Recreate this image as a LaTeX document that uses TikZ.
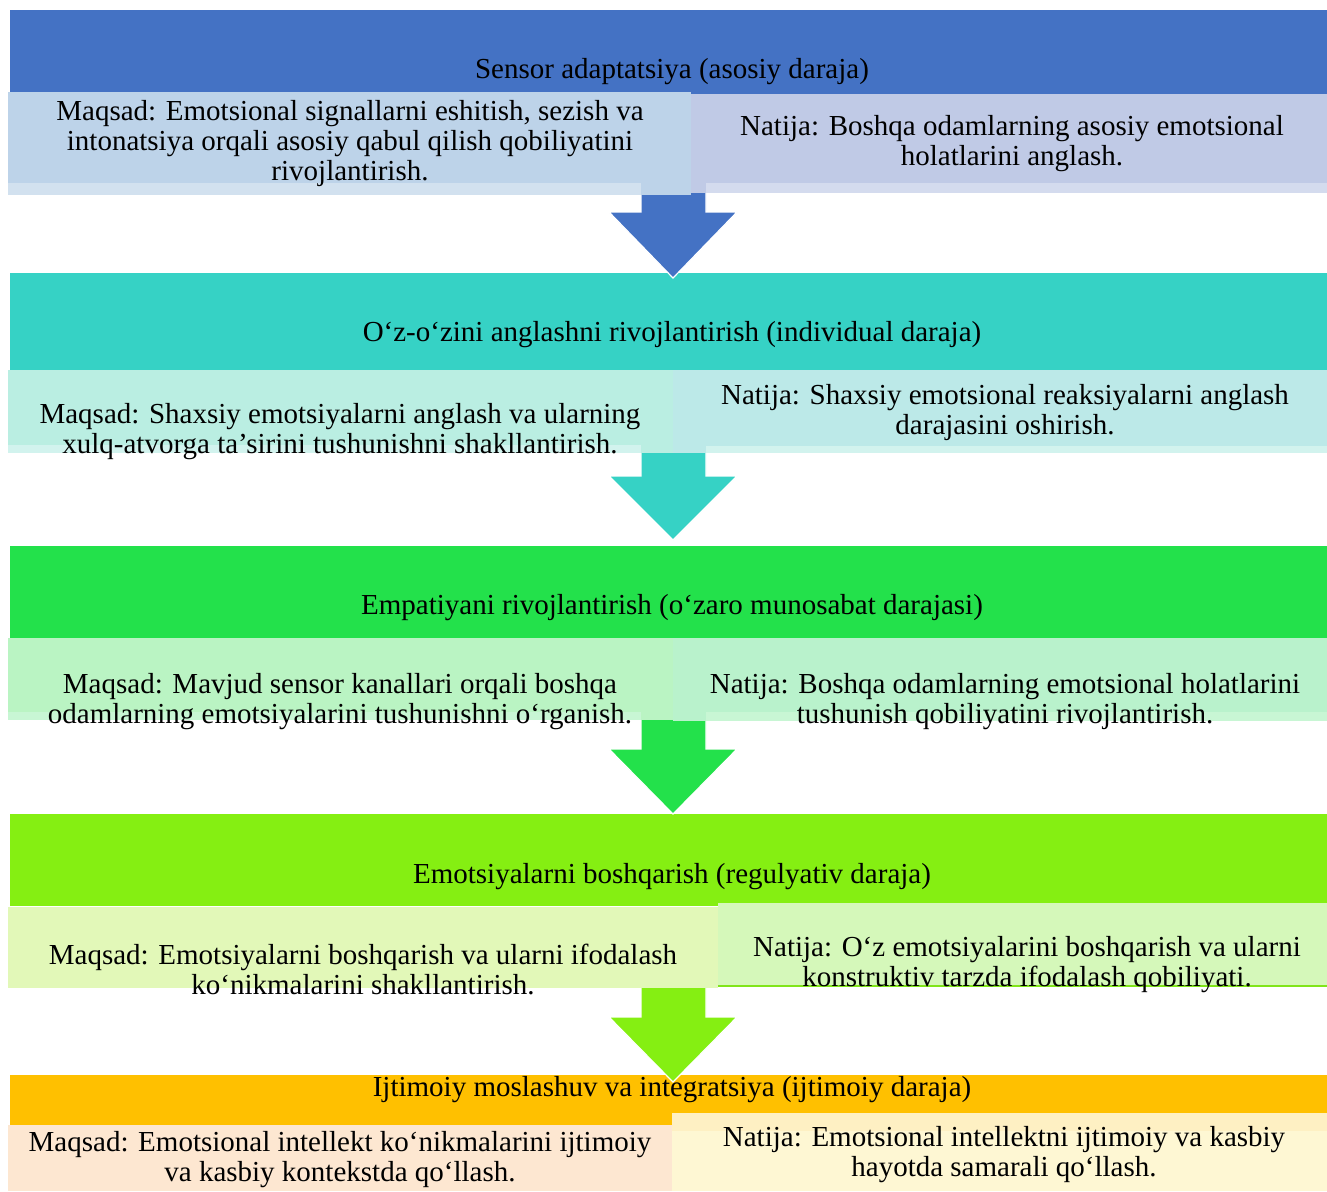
\documentclass[tikz,border=0pt]{standalone}
\usepackage{fontspec}
\setmainfont{Liberation Serif}
\definecolor{hblue}{HTML}{4472C4}
\definecolor{hteal}{HTML}{36D2C5}
\definecolor{hgreen}{HTML}{23E14B}
\definecolor{hlime}{HTML}{85EF12}
\definecolor{horange}{HTML}{FFC000}
\definecolor{aL}{HTML}{BDD3E9}\definecolor{aLs}{HTML}{D2E1EF}
\definecolor{aR}{HTML}{C0CAE6}\definecolor{aRs}{HTML}{D4DBEE}
\definecolor{bL}{HTML}{BAEEE2}\definecolor{bR}{HTML}{BCE9E8}\definecolor{bs}{HTML}{D2F3EE}
\definecolor{cL}{HTML}{BAF4C3}\definecolor{cR}{HTML}{B9F2CC}\definecolor{cs}{HTML}{C8F6D4}
\definecolor{dL}{HTML}{E2F8B8}\definecolor{dR}{HTML}{D5F8BA}\definecolor{dline}{HTML}{80E51A}
\definecolor{eL}{HTML}{FDE7D1}\definecolor{eR}{HTML}{FEF7D3}\definecolor{eRs}{HTML}{FEF0C3}
\tikzset{
  txt/.style={font=\fontsize{29}{30}\selectfont, align=center, inner sep=0pt, text=black},
  blockarrow/.style={draw=white, line width=1.2pt, line join=miter},
}
\begin{document}
\begin{tikzpicture}[x=1pt,y=-1pt]
\useasboundingbox (0,0) rectangle (1327,1191);
% headers
\fill[hblue] (10,10) rectangle (1327,95);
\fill[hteal] (10,273) rectangle (1327,372);
\fill[hgreen] (10,546) rectangle (1327,640);
\fill[hlime] (10,814) rectangle (1327,906);
\fill[horange] (10,1075) rectangle (1327,1125);
% block arrows
\foreach \st/\ht/\tp/\col in {180/212/278/hblue, 445/476/540/hteal, 715/749/814/hgreen, 985/1017/1082/hlime}{
  \filldraw[blockarrow, fill=\col] (641,\st) -- (706,\st) -- (706,\ht) -- (737,\ht) -- (673,\tp) -- (609,\ht) -- (641,\ht) -- cycle;
}
% section 1 boxes
\fill[aR] (690,94) rectangle (1327,193);
\fill[aRs] (706,183) rectangle (1327,193);
\fill[aL] (8,92) rectangle (691,195);
\fill[aLs] (8,183) rectangle (641,195);
% section 2 boxes
\fill[bR] (673,370) rectangle (1327,453);
\fill[bs] (706,446) rectangle (1327,453);
\fill[bL] (8,370) rectangle (673,453);
\fill[bs] (8,445) rectangle (641,453);
% section 3 boxes
\fill[cR] (673,638) rectangle (1327,721);
\fill[cs] (706,712) rectangle (1327,721);
\fill[cL] (8,638) rectangle (673,720);
\fill[cs] (8,712) rectangle (641,720);
% section 4 boxes
\fill[dR] (718,903) rectangle (1327,986);
\draw[dline, line width=1.5pt] (718,986) -- (1327,986);
\fill[dL] (8,907) rectangle (718,988);
% section 5 boxes
\fill[eR] (672,1113) rectangle (1327,1191);
\fill[eRs] (672,1113) rectangle (1327,1131);
\fill[eL] (8,1125) rectangle (672,1191);
% titles
\node[txt] (t1) at (672,72) {Sensor adaptatsiya (asosiy daraja)};
\node[txt] (t2) at (672,335) {O‘z-o‘zini anglashni rivojlantirish (individual daraja)};
\node[txt] (t3) at (672,608) {Empatiyani rivojlantirish (o‘zaro munosabat darajasi)};
\node[txt] (t4) at (672,877) {Emotsiyalarni boshqarish (regulyativ daraja)};
\node[txt] (t5) at (672,1090) {Ijtimoiy moslashuv va integratsiya (ijtimoiy daraja)};
% texts
\node[txt] (l1) at (350,144) {Maqsad: Emotsional signallarni eshitish, sezish va\\intonatsiya orqali asosiy qabul qilish qobiliyatini\\rivojlantirish.};
\node[txt] (r1) at (1012,144) {Natija: Boshqa odamlarning asosiy emotsional\\holatlarini anglash.};
\node[txt] (l2) at (340,432) {Maqsad: Shaxsiy emotsiyalarni anglash va ularning\\xulq-atvorga ta’sirini tushunishni shakllantirish.};
\node[txt] (r2) at (1005,413) {Natija: Shaxsiy emotsional reaksiyalarni anglash\\darajasini oshirish.};
\node[txt] (l3) at (340,702) {Maqsad: Mavjud sensor kanallari orqali boshqa\\odamlarning emotsiyalarini tushunishni o‘rganish.};
\node[txt] (r3) at (1005,702) {Natija: Boshqa odamlarning emotsional holatlarini\\tushunish qobiliyatini rivojlantirish.};
\node[txt] (l4) at (363,969) {Maqsad: Emotsiyalarni boshqarish va ularni ifodalash\\ko‘nikmalarini shakllantirish.};
\node[txt] (r4) at (1027,965) {Natija: O‘z emotsiyalarini boshqarish va ularni\\konstruktiv tarzda ifodalash qobiliyati.};
\node[txt] (l5) at (340,1160) {Maqsad: Emotsional intellekt ko‘nikmalarini ijtimoiy\\va kasbiy kontekstda qo‘llash.};
\node[txt] (r5) at (1004,1155) {Natija: Emotsional intellektni ijtimoiy va kasbiy\\hayotda samarali qo‘llash.};
\end{tikzpicture}
\end{document}
